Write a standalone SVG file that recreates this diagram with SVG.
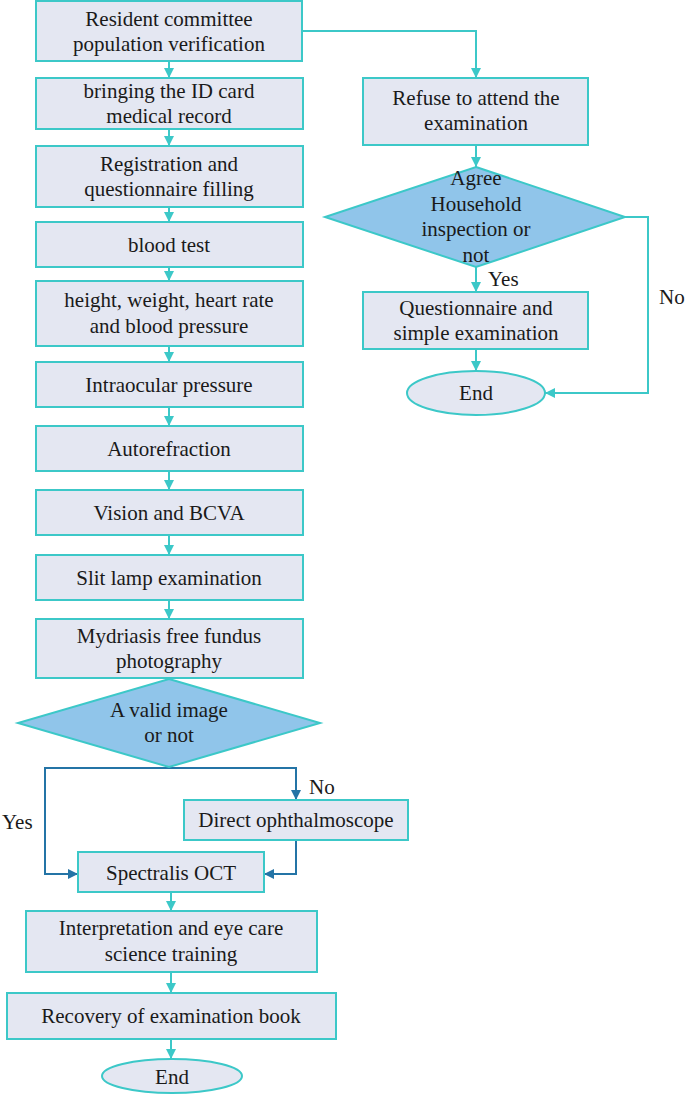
<svg xmlns="http://www.w3.org/2000/svg" width="685" height="1097" viewBox="0 0 685 1097">
<style>
.box{fill:#E4E7F2;stroke:#3CC8C8;stroke-width:2}
.dia{fill:#90C5EA;stroke:#3CC8C8;stroke-width:2}
text{font-family:'Liberation Serif','DejaVu Serif',serif;font-size:21px;fill:#1a1a1a}
.t{text-anchor:middle}
.c{fill:none;stroke:#3CC8C8;stroke-width:2}
.d{fill:none;stroke:#2474A6;stroke-width:2}
</style>
<defs>
<marker id="a" markerUnits="userSpaceOnUse" markerWidth="12" markerHeight="12" refX="10" refY="5" orient="auto"><path d="M0,0 L10,5 L0,10 Z" fill="#3CC8C8"/></marker>
<marker id="b" markerUnits="userSpaceOnUse" markerWidth="12" markerHeight="12" refX="10" refY="5" orient="auto"><path d="M0,0 L10,5 L0,10 Z" fill="#2474A6"/></marker>
</defs>
<g id="connectors">
<path class="c" d="M169,61 V78" marker-end="url(#a)"/>
<path class="c" d="M169,129 V146" marker-end="url(#a)"/>
<path class="c" d="M169,207 V222" marker-end="url(#a)"/>
<path class="c" d="M169,267 V281" marker-end="url(#a)"/>
<path class="c" d="M169,346 V362" marker-end="url(#a)"/>
<path class="c" d="M169,407 V426" marker-end="url(#a)"/>
<path class="c" d="M169,471 V490" marker-end="url(#a)"/>
<path class="c" d="M169,535 V555" marker-end="url(#a)"/>
<path class="c" d="M169,600 V619" marker-end="url(#a)"/>
<path class="d" d="M45,874 V768 H296 V800" marker-end="url(#b)"/>
<path class="d" d="M45,860 V874 H78" marker-end="url(#b)"/>
<path class="d" d="M296,840 V874 H264" marker-end="url(#b)"/>
<path class="c" d="M171,892 V911" marker-end="url(#a)"/>
<path class="c" d="M171,972 V993" marker-end="url(#a)"/>
<path class="c" d="M171,1039 V1059" marker-end="url(#a)"/>
<path class="c" d="M302,31 H476 V78" marker-end="url(#a)"/>
<path class="c" d="M476,145 V167" marker-end="url(#a)"/>
<path class="c" d="M476,267 V292" marker-end="url(#a)"/>
<path class="c" d="M476,349 V371" marker-end="url(#a)"/>
<path class="c" d="M625,217 H648 V393 H545" marker-end="url(#a)"/>
<text x="488" y="286">Yes</text>
<text x="659" y="304">No</text>
<text x="2" y="829">Yes</text>
<text x="309" y="794">No</text>
</g>
<g id="n1"><rect class="box" x="36" y="1" width="266" height="60"/><text class="t" x="169" y="25.5">Resident committee</text><text class="t" x="169" y="50.5">population verification</text></g>
<g id="n2"><rect class="box" x="36" y="78" width="267" height="51"/><text class="t" x="169" y="98">bringing the ID card</text><text class="t" x="169" y="123">medical record</text></g>
<g id="n3"><rect class="box" x="36" y="146" width="267" height="61"/><text class="t" x="169" y="171">Registration and</text><text class="t" x="169" y="196">questionnaire filling</text></g>
<g id="n4"><rect class="box" x="36" y="222" width="267" height="45"/><text class="t" x="169" y="252">blood test</text></g>
<g id="n5"><rect class="box" x="36" y="281" width="267" height="65"/><text class="t" x="169" y="307">height, weight, heart rate</text><text class="t" x="169" y="333">and blood pressure</text></g>
<g id="n6"><rect class="box" x="36" y="362" width="267" height="45"/><text class="t" x="169" y="392">Intraocular pressure</text></g>
<g id="n7"><rect class="box" x="36" y="426" width="267" height="45"/><text class="t" x="169" y="456">Autorefraction</text></g>
<g id="n8"><rect class="box" x="36" y="490" width="267" height="45"/><text class="t" x="169" y="520">Vision and BCVA</text></g>
<g id="n9"><rect class="box" x="36" y="555" width="267" height="45"/><text class="t" x="169" y="585">Slit lamp examination</text></g>
<g id="n10"><rect class="box" x="36" y="619" width="267" height="59"/><text class="t" x="169" y="643">Mydriasis free fundus</text><text class="t" x="169" y="668">photography</text></g>
<g id="n11"><polygon class="dia" points="169,679 320,723 169,767 18,723"/><text class="t" x="169" y="717">A valid image</text><text class="t" x="169" y="742">or not</text></g>
<g id="n12"><rect class="box" x="184" y="800" width="224" height="40"/><text class="t" x="296" y="827">Direct ophthalmoscope</text></g>
<g id="n13"><rect class="box" x="78" y="852" width="186" height="40"/><text class="t" x="171" y="880">Spectralis OCT</text></g>
<g id="n14"><rect class="box" x="26" y="911" width="291" height="61"/><text class="t" x="171" y="935">Interpretation and eye care</text><text class="t" x="171" y="961">science training</text></g>
<g id="n15"><rect class="box" x="7" y="993" width="329" height="46"/><text class="t" x="171" y="1023">Recovery of examination book</text></g>
<g id="n16"><ellipse class="box" cx="172" cy="1076" rx="70" ry="17"/><text class="t" x="172" y="1084">End</text></g>
<g id="r1"><rect class="box" x="363" y="78" width="225" height="67"/><text class="t" x="476" y="105">Refuse to attend the</text><text class="t" x="476" y="130">examination</text></g>
<g id="r2"><polygon class="dia" points="476,167 625,217 476,267 325,217"/><text class="t" x="476" y="185">Agree</text><text class="t" x="476" y="211">Household</text><text class="t" x="476" y="236">inspection or</text><text class="t" x="476" y="262">not</text></g>
<g id="r3"><rect class="box" x="363" y="292" width="225" height="57"/><text class="t" x="476" y="315">Questionnaire and</text><text class="t" x="476" y="340">simple examination</text></g>
<g id="r4"><ellipse class="box" cx="476" cy="393" rx="69" ry="22"/><text class="t" x="476" y="400">End</text></g>
</svg>
